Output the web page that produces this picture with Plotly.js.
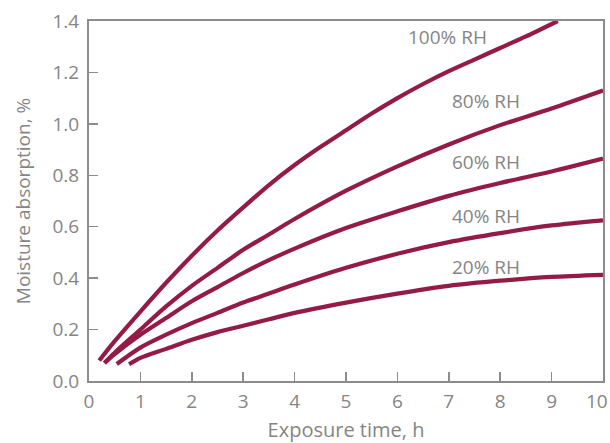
<!DOCTYPE html>
<html>
<head>
<meta charset="utf-8">
<script src="https://cdn.plot.ly/plotly-3.0.1.min.js"></script>
<style>html,body{margin:0;padding:0;background:#fff;}#chart{width:610px;height:443px;}</style>
</head>
<body>
<div id="chart"></div>
<script>
const seriesNames = ["100% RH", "80% RH", "60% RH", "40% RH", "20% RH"];
const x100 = [0.2, 0.5, 1, 1.5, 2, 2.5, 3, 3.5, 4, 4.5, 5, 5.5, 6, 6.5, 7, 7.5, 8, 8.5, 9.12];
const y100 = [0.08, 0.155, 0.27, 0.382, 0.487, 0.585, 0.675, 0.762, 0.84, 0.91, 0.975, 1.04, 1.10, 1.155, 1.205, 1.25, 1.295, 1.34, 1.40];
const x80 = [0.3, 0.5, 1, 1.5, 2, 2.5, 3, 3.5, 4, 5, 6, 7, 8, 9, 10];
const y80 = [0.07, 0.11, 0.2, 0.29, 0.37, 0.44, 0.51, 0.57, 0.63, 0.74, 0.835, 0.92, 0.995, 1.06, 1.13];
const x60 = [0.3, 0.5, 1, 1.5, 2, 2.5, 3, 3.5, 4, 5, 6, 7, 8, 9, 10];
const y60 = [0.07, 0.105, 0.18, 0.245, 0.31, 0.365, 0.42, 0.47, 0.515, 0.595, 0.66, 0.72, 0.77, 0.815, 0.865];
const x40 = [0.54, 1, 1.5, 2, 2.5, 3, 3.5, 4, 5, 6, 7, 8, 9, 10];
const y40 = [0.066, 0.13, 0.18, 0.225, 0.265, 0.305, 0.34, 0.375, 0.44, 0.495, 0.54, 0.575, 0.605, 0.625];
const x20 = [0.78, 1, 1.5, 2, 2.5, 3, 3.5, 4, 5, 6, 7, 8, 9, 10];
const y20 = [0.065, 0.09, 0.125, 0.16, 0.19, 0.215, 0.24, 0.265, 0.305, 0.34, 0.37, 0.39, 0.405, 0.413];
const xTickVals = [0, 1, 2, 3, 4, 5, 6, 7, 8, 9, 10];
const xTickText = ["0", "1", "2", "3", "4", "5", "6", "7", "8", "9", "10"];
// label anchor positions (data coords)
const labelX = [6.98, 7.72, 7.72, 7.72, 7.72];
const labelY = [1.338, 1.089, 0.852, 0.642, 0.444];

const xs = [x100, x80, x60, x40, x20];
const ys = [y100, y80, y60, y40, y20];
const lineColor = "#951b47";
const gray = "#858585";
const font = "Open Sans";

const traces = xs.map((x, i) => ({
  type: "scatter", mode: "lines", x: x, y: ys[i], name: seriesNames[i],
  line: {color: lineColor, width: 4.2, shape: "spline", smoothing: 0.8},
  hoverinfo: "skip"
}));

const annotations = seriesNames.map((t, i) => ({
  x: labelX[i], y: labelY[i], xref: "x", yref: "y", text: t, showarrow: false,
  font: {family: font, size: 19, color: gray}, xanchor: "center", yanchor: "middle"
}));

// the last x tick label sits at the page edge: draw it as a shifted annotation so it stays inside
const lastIdx = xTickVals.length - 1;
annotations.push({
  x: xTickVals[lastIdx], y: 0, xref: "x", yref: "y", text: xTickText[lastIdx], showarrow: false,
  font: {family: font, size: 19, color: gray}, xanchor: "center", yanchor: "top",
  xshift: -6, yshift: -5
});
const xTickTextShown = xTickText.map((t, i) => i === lastIdx ? "" : t);

const axisCommon = {
  showline: true, mirror: true, linecolor: "#8c8c8c", linewidth: 2,
  ticks: "inside", ticklen: 9, tickwidth: 1.5, tickcolor: "#8c8c8c",
  showgrid: false, zeroline: false,
  tickfont: {family: font, size: 19, color: gray}
};

const layout = {
  width: 610, height: 443,
  margin: {l: 89, r: 7, t: 21, b: 62},
  paper_bgcolor: "#fff", plot_bgcolor: "#fff",
  showlegend: false,
  xaxis: Object.assign({}, axisCommon, {
    range: [0, 10], tickmode: "array", tickvals: xTickVals, ticktext: xTickTextShown,
    ticklabelstandoff: 2,
    title: {text: "Exposure time, h", font: {family: font, size: 20, color: gray}, standoff: 10}
  }),
  yaxis: Object.assign({}, axisCommon, {
    range: [0, 1.4], dtick: 0.2, tick0: 0, tickformat: ".1f", ticklabelstandoff: 4,
    title: {text: "Moisture absorption, %", font: {family: font, size: 19, color: gray}, standoff: 17}
  }),
  annotations: annotations
};

Plotly.newPlot("chart", traces, layout, {displayModeBar: false, staticPlot: true});
</script>
</body>
</html>
